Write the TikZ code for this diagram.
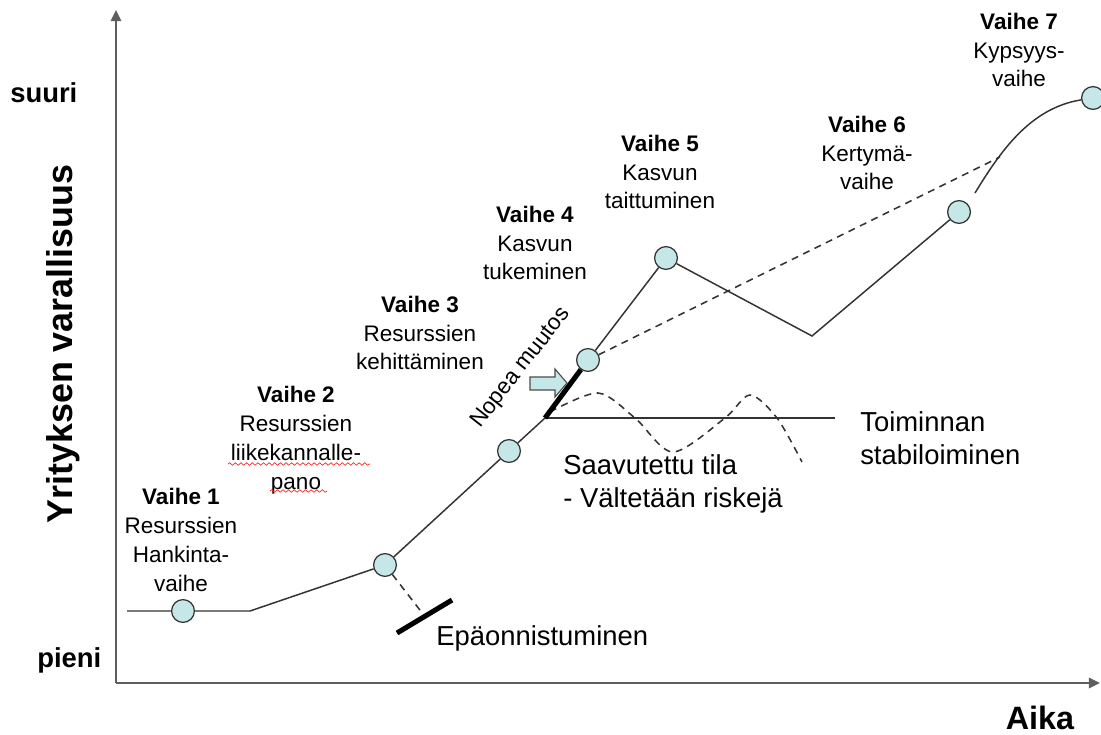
\documentclass[tikz,border=0pt]{standalone}
\usepackage{fontspec}
\setmainfont{Liberation Sans}
\usetikzlibrary{positioning,arrows.meta,decorations.pathmorphing}
\definecolor{stagefill}{RGB}{197,231,231}
\definecolor{axisgray}{RGB}{95,95,95}

\begin{document}
\begin{tikzpicture}[x=0.025cm,y=-0.025cm,
  stage/.style={circle,draw=black!80,fill=stagefill,line width=0.9pt,minimum size=0.57cm,inner sep=0pt},
  phase/.style={align=center,inner sep=0pt,font=\fontsize{16}{20.5}\selectfont},
  note/.style={align=left,anchor=west,inner sep=0pt,font=\fontsize{19.5}{23.5}\selectfont},
  curve/.style={draw=black!80,line width=1.05pt},
  dashline/.style={draw=black!80,line width=1.1pt,dash pattern=on 5pt off 4pt},
  bar/.style={line width=3.6pt,line cap=butt},
  axis/.style={draw=axisgray,line width=1.4pt,-{Triangle[length=8pt,width=7.5pt]}},
  squiggle/.style={draw=red!85,line width=0.5pt,decorate,decoration={snake,amplitude=0.9pt,segment length=4pt}}]
  \useasboundingbox (0,0) rectangle (1101,735);

  % axes
  \coordinate (origin) at (116,683);
  \coordinate (ytop) at (116,10);
  \coordinate (xend) at (1100,683);
  \draw[axis] (origin) -- (ytop);
  \draw[axis] (origin) -- (xend);
  \node[anchor=west,inner sep=0pt,font=\bfseries\fontsize{19.5}{23}\selectfont] (big) at (10,93) {suuri};
  \node[anchor=west,inner sep=0pt,font=\bfseries\fontsize{19.5}{23}\selectfont] (small) at (37,660) {pieni};
  \node[rotate=90,inner sep=0pt,font=\bfseries\fontsize{25.5}{29}\selectfont] (wealth) at (63,344) {Yrityksen varallisuus};
  \node[inner sep=0pt,font=\bfseries\fontsize{23}{27}\selectfont] (time) at (1040,718) {Aika};

  % stages
  \foreach \n/\x/\y in {1/183/611,2/385/565,3/509/451,4/588/360,5/666/258,6/959/212,7/1093/98} {
    \node[stage] (c\n) at (\x,\y) {};
  }
  \coordinate (start) at (127,611);
  \coordinate (knee) at (250,611);
  \coordinate (stab) at (545,418);
  \coordinate (stabend) at (835,418);
  \coordinate (dip) at (812,336);
  \coordinate (rise) at (975,193);
  \coordinate (dashend) at (1000,157);
  \coordinate (fail) at (423,614);
  \coordinate (failA) at (397,633);
  \coordinate (failB) at (452,600);

  \draw[curve] (start) -- (c1) -- (knee) -- (c2) -- (c3) -- (stab);
  \draw[curve] (c4) -- (c5) -- (dip) -- (c6);
  \draw[curve] (rise) .. controls (1000,152) and (1030,108) .. (c7);
  \draw[dashline] (c4) -- (dashend);
  \draw[dashline] (c2) -- (fail);
  \draw[bar] (failA) -- (failB);
  \draw[curve] (stab) -- (stabend);
  \draw[dashline] plot[smooth] coordinates {(550,412) (598,393) (635,418) (673,452) (725,418) (750,395) (777,418) (802,462)};
  \draw[bar] (stab) -- (c4);
  \filldraw[fill=stagefill,draw=black!70,line width=0.8pt]
    (530,377) -- (555,377) -- (555,369) -- (567,383) -- (555,397) -- (555,390) -- (530,390) -- cycle;
  \node[rotate=52,inner sep=0pt,font=\fontsize{16}{20}\selectfont] (fast) at (521,368) {Nopea muutos};

  % phase labels
  \node[phase] (p1) at (181,540) {\textbf{Vaihe 1}\\Resurssien\\Hankinta-\\vaihe};
  \node[phase] (p2) at (296,440) {\textbf{Vaihe 2}\\Resurssien\\liikekannalle-\\pano};
  \node[phase] (p3) at (420,333) {\textbf{Vaihe 3}\\Resurssien\\kehittäminen};
  \node[phase] (p4) at (535,243) {\textbf{Vaihe 4}\\Kasvun\\tukeminen};
  \node[phase] (p5) at (660,172) {\textbf{Vaihe 5}\\Kasvun\\taittuminen};
  \node[phase] (p6) at (867,153) {\textbf{Vaihe 6}\\Kertymä-\\vaihe};
  \node[phase] (p7) at (1019,50) {\textbf{Vaihe 7}\\Kypsyys-\\vaihe};
  \draw[squiggle] (228,464) -- (370,464);
  \draw[squiggle] (270,491) -- (327,491);

  % notes
  \node[note] (steady) at (860,438) {Toiminnan\\stabiloiminen};
  \node[note] (reached) at (563,484) {Saavutettu tila\\- Vältetään riskejä};
  \node[note] (failure) at (436,638) {Epäonnistuminen};
\end{tikzpicture}
\end{document}
